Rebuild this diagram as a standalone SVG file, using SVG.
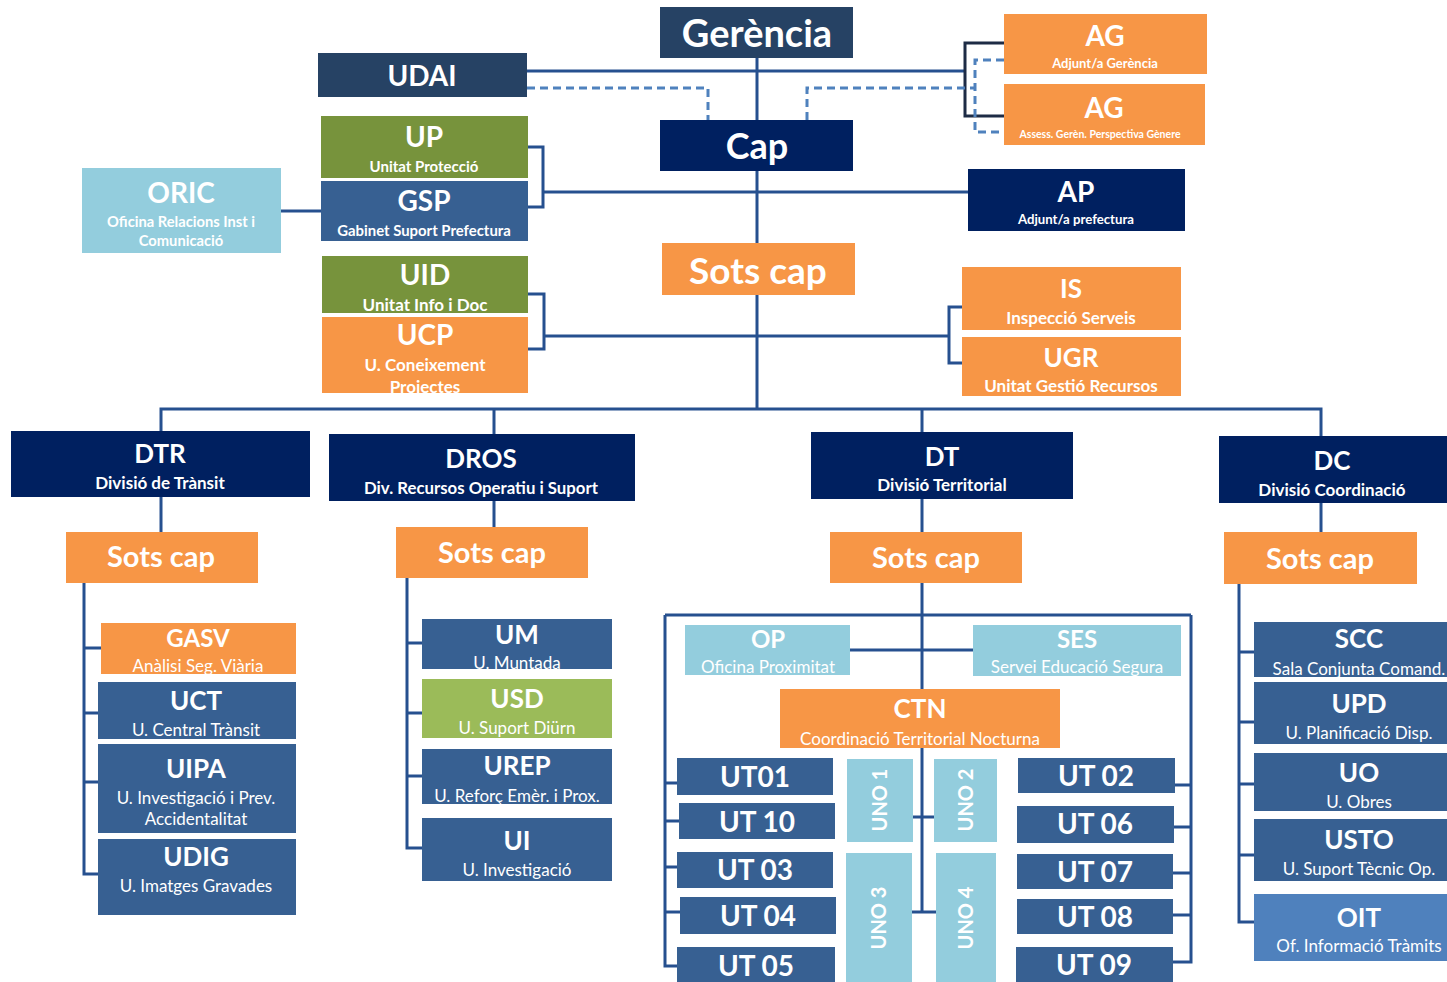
<svg xmlns="http://www.w3.org/2000/svg" width="1447" height="982" viewBox="0 0 1447 982">
<style>
.ln{fill:none;stroke:#26508f;stroke-width:3}
.dk{fill:none;stroke:#1d2b45;stroke-width:3}
.ds{fill:none;stroke:#4f81bd;stroke-width:3;stroke-dasharray:8 5}
.slate{fill:#264264}
.navy{fill:#002060}
.or{fill:#f79646}
.gr{fill:#77933c}
.bl{fill:#376092}
.lb{fill:#93cddd}
.lg{fill:#9bbb59}
.ob{fill:#4f81bd}
text{font-family:Lato,"Open Sans","DejaVu Sans",sans-serif;fill:#fff;text-anchor:middle}
.t{font-weight:bold}
.s{font-weight:bold}
.r{font-weight:normal;font-size:17px}
</style>
<rect width="1447" height="982" fill="#fff"/>
<g id="connectors">
<path class="ln" d="M757 57V408"/>
<path class="ln" d="M526 71H965"/>
<path class="dk" d="M1004 43H965V116H1004"/>
<path class="ds" d="M527 88H708V120"/>
<path class="ds" d="M807 120V88H975"/>
<path class="ds" d="M1004 60H975V132H1004"/>
<path class="ln" d="M527 147H543V207H527M543 192H968"/>
<path class="ln" d="M280 211H321"/>
<path class="ln" d="M528 294H544V349H528M544 336H949"/>
<path class="ln" d="M962 307H949V363H962"/>
<path class="ln" d="M161 431V409H1321V436M494 409V434M922 409V432"/>
<path class="ln" d="M161 497V532M494 501V527M922 499V532M1321 503V532"/>
<path class="ln" d="M84 583V874H98M84 648H101M84 713H98M84 782H98"/>
<path class="ln" d="M407 578V848H422M407 643H422M407 713H422M407 776H422"/>
<path class="ln" d="M922 583V912"/>
<path class="ln" d="M665 615H1191"/>
<path class="ln" d="M665 615V966H677M665 783H677M665 821H679M665 867H677M665 912H680"/>
<path class="ln" d="M1191 615V962H1172M1175 785H1191M1174 827H1191M1173 873H1191M1173 915H1191"/>
<path class="ln" d="M850 650H973"/>
<path class="ln" d="M913 817H934M912 912H936"/>
<path class="ln" d="M1239 584V922H1254M1239 652H1254M1239 722H1254M1239 784H1254M1239 855H1254"/>
</g>
<g id="gerencia"><rect class="slate" x="660" y="7" width="193" height="51"/><text class="t" x="757" y="47" font-size="38">Gerència</text></g>
<g id="udai"><rect class="slate" x="318" y="53" width="209" height="44"/><text class="t" x="422" y="86" font-size="28">UDAI</text></g>
<g id="cap"><rect class="navy" x="660" y="120" width="193" height="51"/><text class="t" x="757" y="159" font-size="36">Cap</text></g>
<g id="ag1"><rect class="or" x="1004" y="14" width="203" height="60"/><text class="t" x="1105" y="46" font-size="28">AG</text><text class="s" x="1105" y="68" font-size="13">Adjunt/a Gerència</text></g>
<g id="ag2"><rect class="or" x="1004" y="84" width="201" height="61"/><text class="t" x="1104" y="118" font-size="28">AG</text><text class="s" x="1100" y="138" font-size="10.5">Assess.  Gerèn.  Perspectiva  Gènere</text></g>
<g id="ap"><rect class="navy" x="968" y="169" width="217" height="62"/><text class="t" x="1076" y="202" font-size="28">AP</text><text class="s" x="1076" y="224" font-size="13.2">Adjunt/a prefectura</text></g>
<g id="up"><rect class="gr" x="321" y="116" width="207" height="62"/><text class="t" x="424" y="147" font-size="28">UP</text><text class="s" x="424" y="172" font-size="15">Unitat Protecció</text></g>
<g id="gsp"><rect class="bl" x="321" y="181" width="207" height="60"/><text class="t" x="424" y="211" font-size="28">GSP</text><text class="s" x="424" y="236" font-size="14.9">Gabinet Suport Prefectura</text></g>
<g id="oric"><rect class="lb" x="82" y="168" width="199" height="85"/><text class="t" x="181" y="203" font-size="28">ORIC</text><text class="s" x="181" y="227" font-size="14.7">Oficina Relacions Inst i</text><text class="s" x="181" y="246" font-size="14.7">Comunicació</text></g>
<g id="sotscap"><rect class="or" x="662" y="243" width="193" height="52"/><text class="t" x="758" y="284" font-size="37">Sots cap</text></g>
<g id="uid"><rect class="gr" x="322" y="256" width="206" height="57"/><text class="t" x="425" y="285" font-size="28">UID</text><text class="s" x="425" y="311" font-size="17">Unitat Info i Doc</text></g>
<g id="ucp"><rect class="or" x="322" y="317" width="206" height="76"/><text class="t" x="425" y="345" font-size="28">UCP</text><text class="s" x="425" y="371" font-size="17">U. Coneixement</text><text class="s" x="425" y="393" font-size="17">Projectes</text></g>
<g id="is"><rect class="or" x="962" y="267" width="219" height="63"/><text class="t" x="1071" y="298" font-size="26">IS</text><text class="s" x="1071" y="324" font-size="17">Inspecció Serveis</text></g>
<g id="ugr"><rect class="or" x="962" y="337" width="219" height="59"/><text class="t" x="1071" y="367" font-size="26">UGR</text><text class="s" x="1071" y="392" font-size="17">Unitat Gestió Recursos</text></g>
<g id="dtr"><rect class="navy" x="11" y="431" width="299" height="66"/><text class="t" x="160" y="463" font-size="26">DTR</text><text class="s" x="160" y="489" font-size="17">Divisió de Trànsit</text></g>
<g id="dros"><rect class="navy" x="329" y="434" width="306" height="67"/><text class="t" x="481" y="468" font-size="26">DROS</text><text class="s" x="481" y="494" font-size="16.8">Div. Recursos Operatiu i Suport</text></g>
<g id="dt"><rect class="navy" x="811" y="432" width="262" height="67"/><text class="t" x="942" y="466" font-size="26">DT</text><text class="s" x="942" y="491" font-size="17">Divisió Territorial</text></g>
<g id="dc"><rect class="navy" x="1219" y="436" width="228" height="67"/><text class="t" x="1332" y="470" font-size="26">DC</text><text class="s" x="1332" y="496" font-size="17">Divisió Coordinació</text></g>
<g id="sotscap-dtr"><rect class="or" x="66" y="532" width="192" height="51"/><text class="t" x="161" y="567" font-size="29">Sots cap</text></g>
<g id="sotscap-dros"><rect class="or" x="396" y="527" width="192" height="51"/><text class="t" x="492" y="563" font-size="29">Sots cap</text></g>
<g id="sotscap-dt"><rect class="or" x="830" y="532" width="192" height="51"/><text class="t" x="926" y="568" font-size="29">Sots cap</text></g>
<g id="sotscap-dc"><rect class="or" x="1224" y="532" width="193" height="52"/><text class="t" x="1320" y="569" font-size="29">Sots cap</text></g>
<g id="gasv"><rect class="or" x="101" y="623" width="195" height="51"/><text class="t" x="198" y="647" font-size="24">GASV</text><text class="r" x="198" y="672">Anàlisi Seg. Viària</text></g>
<g id="uct"><rect class="bl" x="98" y="682" width="198" height="57"/><text class="t" x="196" y="710" font-size="26">UCT</text><text class="r" x="196" y="736">U. Central Trànsit</text></g>
<g id="uipa"><rect class="bl" x="98" y="744" width="198" height="89"/><text class="t" x="196" y="778" font-size="26">UIPA</text><text class="r" x="196" y="804">U. Investigació i Prev.</text><text class="r" x="196" y="825">Accidentalitat</text></g>
<g id="udig"><rect class="bl" x="98" y="839" width="198" height="76"/><text class="t" x="196" y="866" font-size="26">UDIG</text><text class="r" x="196" y="892">U. Imatges Gravades</text></g>
<g id="um"><rect class="bl" x="422" y="619" width="190" height="50"/><text class="t" x="517" y="644" font-size="26">UM</text><text class="r" x="517" y="669">U. Muntada</text></g>
<g id="usd"><rect class="lg" x="422" y="679" width="190" height="59"/><text class="t" x="517" y="708" font-size="26">USD</text><text class="r" x="517" y="734">U. Suport Diürn</text></g>
<g id="urep"><rect class="bl" x="422" y="749" width="190" height="55"/><text class="t" x="517" y="775" font-size="26">UREP</text><text class="r" x="517" y="802">U. Reforç Emèr. i Prox.</text></g>
<g id="ui"><rect class="bl" x="422" y="818" width="190" height="63"/><text class="t" x="517" y="850" font-size="26">UI</text><text class="r" x="517" y="876">U. Investigació</text></g>
<g id="op"><rect class="lb" x="685" y="625" width="165" height="50"/><text class="t" x="768" y="648" font-size="24">OP</text><text class="r" x="768" y="673">Oficina Proximitat</text></g>
<g id="ses"><rect class="lb" x="973" y="625" width="208" height="51"/><text class="t" x="1077" y="648" font-size="24">SES</text><text class="r" x="1077" y="673">Servei Educació Segura</text></g>
<g id="ctn"><rect class="or" x="780" y="689" width="280" height="59"/><text class="t" x="920" y="718" font-size="26">CTN</text><text class="r" x="920" y="745">Coordinació Territorial Nocturna</text></g>
<g id="ut01"><rect class="bl" x="677" y="758" width="156" height="37"/><text class="t" x="755" y="787" font-size="28">UT01</text></g>
<g id="ut10"><rect class="bl" x="679" y="803" width="156" height="36"/><text class="t" x="757" y="832" font-size="28">UT 10</text></g>
<g id="ut03"><rect class="bl" x="677" y="852" width="156" height="36"/><text class="t" x="755" y="880" font-size="28">UT 03</text></g>
<g id="ut04"><rect class="bl" x="680" y="897" width="156" height="37"/><text class="t" x="758" y="926" font-size="28">UT 04</text></g>
<g id="ut05"><rect class="bl" x="677" y="947" width="158" height="35"/><text class="t" x="756" y="976" font-size="28">UT 05</text></g>
<g id="uno1"><rect class="lb" x="847" y="759" width="66" height="83"/><text class="t" transform="translate(887 800) rotate(-90)" font-size="20">UNO 1</text></g>
<g id="uno2"><rect class="lb" x="934" y="759" width="63" height="83"/><text class="t" transform="translate(973 800) rotate(-90)" font-size="20">UNO 2</text></g>
<g id="uno3"><rect class="lb" x="846" y="853" width="66" height="129"/><text class="t" transform="translate(886 918) rotate(-90)" font-size="20">UNO 3</text></g>
<g id="uno4"><rect class="lb" x="936" y="853" width="60" height="129"/><text class="t" transform="translate(973 918) rotate(-90)" font-size="20">UNO 4</text></g>
<g id="ut02"><rect class="bl" x="1018" y="758" width="157" height="35"/><text class="t" x="1096" y="786" font-size="28">UT 02</text></g>
<g id="ut06"><rect class="bl" x="1017" y="806" width="157" height="37"/><text class="t" x="1095" y="834" font-size="28">UT 06</text></g>
<g id="ut07"><rect class="bl" x="1017" y="854" width="156" height="35"/><text class="t" x="1095" y="882" font-size="28">UT 07</text></g>
<g id="ut08"><rect class="bl" x="1017" y="899" width="156" height="35"/><text class="t" x="1095" y="927" font-size="28">UT 08</text></g>
<g id="ut09"><rect class="bl" x="1016" y="947" width="157" height="35"/><text class="t" x="1094" y="975" font-size="28">UT 09</text></g>
<g id="scc"><rect class="bl" x="1254" y="622" width="193" height="55"/><text class="t" x="1359" y="648" font-size="26">SCC</text><text class="r" x="1359" y="675">Sala Conjunta Comand.</text></g>
<g id="upd"><rect class="bl" x="1254" y="682" width="193" height="62"/><text class="t" x="1359" y="713" font-size="26">UPD</text><text class="r" x="1359" y="739">U. Planificació Disp.</text></g>
<g id="uo"><rect class="bl" x="1254" y="753" width="193" height="58"/><text class="t" x="1359" y="782" font-size="26">UO</text><text class="r" x="1359" y="808">U. Obres</text></g>
<g id="usto"><rect class="bl" x="1254" y="819" width="193" height="62"/><text class="t" x="1359" y="849" font-size="26">USTO</text><text class="r" x="1359" y="875">U. Suport Tècnic Op.</text></g>
<g id="oit"><rect class="ob" x="1254" y="894" width="193" height="67"/><text class="t" x="1359" y="927" font-size="26">OIT</text><text class="r" x="1359" y="952">Of. Informació Tràmits</text></g>
</svg>
